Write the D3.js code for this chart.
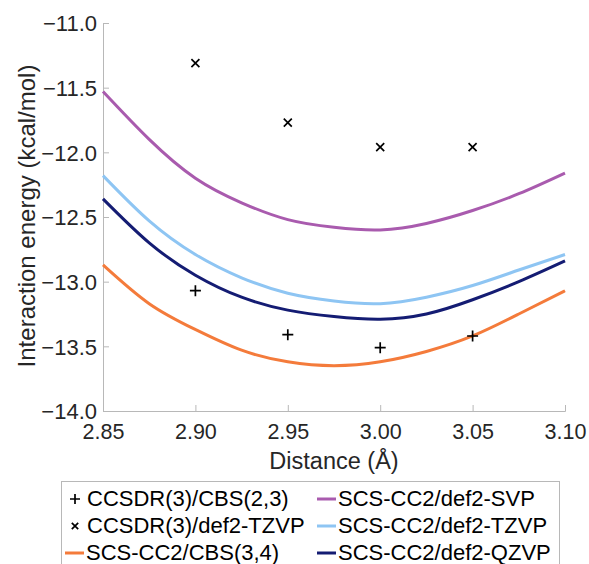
<!DOCTYPE html>
<html>
<head>
<meta charset="utf-8">
<script src="https://cdn.jsdelivr.net/npm/d3@7"></script>
<style>
  body { margin: 0; background: #fff; }
  svg text { font-family: "Liberation Sans", Arial, sans-serif; }
</style>
</head>
<body>
<div id="chart"></div>
<script>
// distances (Å) of the sampled curve points
var distances = [2.85, 2.875, 2.90, 2.925, 2.95, 2.975, 3.00, 3.025, 3.05, 3.075, 3.10];
var svp  = [-11.53, -11.90, -12.20, -12.39, -12.52, -12.58, -12.60, -12.55, -12.45, -12.32, -12.16];
var tzvp = [-12.18, -12.53, -12.79, -12.97, -13.09, -13.15, -13.17, -13.12, -13.03, -12.91, -12.79];
var qzvp = [-12.36, -12.70, -12.95, -13.12, -13.22, -13.27, -13.29, -13.25, -13.14, -13.00, -12.84];
var cbs34 = [-12.87, -13.17, -13.37, -13.53, -13.62, -13.65, -13.62, -13.54, -13.42, -13.25, -13.07];

// CCSDR(3) points
var pointDist = [2.90, 2.95, 3.00, 3.05];
var ccCbs = [-13.07, -13.41, -13.51, -13.42];
var ccTzvp = [-11.31, -11.77, -11.96, -11.96];

var xTicks = [2.85, 2.90, 2.95, 3.00, 3.05, 3.10];
var yTicks = [-11.0, -11.5, -12.0, -12.5, -13.0, -13.5, -14.0];

var W = 589, H = 564;
var svg = d3.select("#chart").append("svg").attr("width", W).attr("height", H);

var x = d3.scaleLinear().domain([2.85, 3.10]).range([103, 565]);
var y = d3.scaleLinear().domain([-14, -11]).range([411, 23]);

var axisCol = "#b8b8b8";
var textCol = "#262626";

// x axis (ticks inward)
var gx = svg.append("g").attr("transform", "translate(0,411)");
gx.call(d3.axisBottom(x).tickValues(d3.range(2.85, 3.1001, 0.01)).tickSize(-3.5).tickFormat(""));
gx.call(d3.axisBottom(x).tickValues(xTicks).tickSize(-6).tickFormat(d3.format(".2f")));
gx.selectAll(".domain").attr("stroke", axisCol);
gx.selectAll("line").attr("stroke", axisCol);
gx.selectAll("text").attr("font-size", 21.5).attr("fill", textCol).attr("dy", null).attr("y", 28);

// y axis (ticks inward)
var gy = svg.append("g").attr("transform", "translate(103,0)");
gy.call(d3.axisLeft(y).tickValues(d3.range(-14, -10.999, 0.1)).tickSize(-3.5).tickFormat(""));
gy.call(d3.axisLeft(y).tickValues(yTicks).tickSize(-6).tickFormat(d3.format(".1f")));
gy.selectAll(".domain").attr("stroke", axisCol);
gy.selectAll("line").attr("stroke", axisCol);
gy.selectAll("text").attr("font-size", 22).attr("fill", textCol).attr("x", -6).attr("dy", "0.35em");

// curves
var series = [
  {name: "SCS-CC2/def2-SVP", values: svp, color: "#a95bae"},
  {name: "SCS-CC2/def2-TZVP", values: tzvp, color: "#8ec5f3"},
  {name: "SCS-CC2/def2-QZVP", values: qzvp, color: "#141c73"},
  {name: "SCS-CC2/CBS(3,4)", values: cbs34, color: "#f47b3b"}
];
var line = d3.line()
  .x(function(d, i) { return x(distances[i]); })
  .y(function(d) { return y(d); })
  .curve(d3.curveNatural);
series.forEach(function(s) {
  svg.append("path").datum(s.values)
    .attr("d", line)
    .attr("fill", "none")
    .attr("stroke", s.color)
    .attr("stroke-width", 3);
});

// markers
function plus(g, cx, cy, r) {
  g.append("path").attr("d", "M" + (cx - r) + "," + cy + "H" + (cx + r) + "M" + cx + "," + (cy - r) + "V" + (cy + r))
    .attr("stroke", "#000").attr("stroke-width", 1.7);
}
function cross(g, cx, cy, r) {
  g.append("path").attr("d", "M" + (cx - r) + "," + (cy - r) + "L" + (cx + r) + "," + (cy + r) + "M" + (cx + r) + "," + (cy - r) + "L" + (cx - r) + "," + (cy + r))
    .attr("stroke", "#000").attr("stroke-width", 1.7);
}
var gm = svg.append("g");
pointDist.forEach(function(d, i) {
  plus(gm, x(d), y(ccCbs[i]), 5.5);
  cross(gm, x(d), y(ccTzvp[i]), 4);
});

// axis titles
svg.append("text").attr("x", 334).attr("y", 469).attr("text-anchor", "middle")
  .attr("font-size", 23.5).attr("fill", textCol).text("Distance (Å)");
svg.append("text").attr("transform", "translate(35,216) rotate(-90)").attr("text-anchor", "middle")
  .attr("font-size", 24).attr("fill", textCol).text("Interaction energy (kcal/mol)");

// legend
var lg = svg.append("g");
lg.append("rect").attr("x", 61.5).attr("y", 481.5).attr("width", 498).attr("height", 100)
  .attr("fill", "#fff").attr("stroke", "#b8b8b8");
var rows = [506, 533, 560];
var leg = [
  {col: 0, row: 0, type: "plus", name: "CCSDR(3)/CBS(2,3)"},
  {col: 0, row: 1, type: "cross", name: "CCSDR(3)/def2-TZVP"},
  {col: 0, row: 2, type: "line", color: "#f47b3b", name: "SCS-CC2/CBS(3,4)"},
  {col: 1, row: 0, type: "line", color: "#a95bae", name: "SCS-CC2/def2-SVP"},
  {col: 1, row: 1, type: "line", color: "#8ec5f3", name: "SCS-CC2/def2-TZVP"},
  {col: 1, row: 2, type: "line", color: "#141c73", name: "SCS-CC2/def2-QZVP"}
];
var colX = [65, 317];
leg.forEach(function(l) {
  var lx = colX[l.col], ly = rows[l.row];
  var tx = lx + 21;
  if (l.type == "plus") {
    plus(lg, lx + 10, ly - 7, 5);
    tx = lx + 22;
  } else if (l.type == "cross") {
    cross(lg, lx + 10, ly - 7, 3.2);
    tx = lx + 22;
  } else {
    lg.append("line").attr("x1", lx).attr("x2", lx + 19).attr("y1", ly - 7).attr("y2", ly - 7)
      .attr("stroke", l.color).attr("stroke-width", 3);
  }
  lg.append("text").attr("x", tx).attr("y", ly).attr("font-size", 22).attr("fill", "#000").text(l.name);
});
</script>
</body>
</html>
